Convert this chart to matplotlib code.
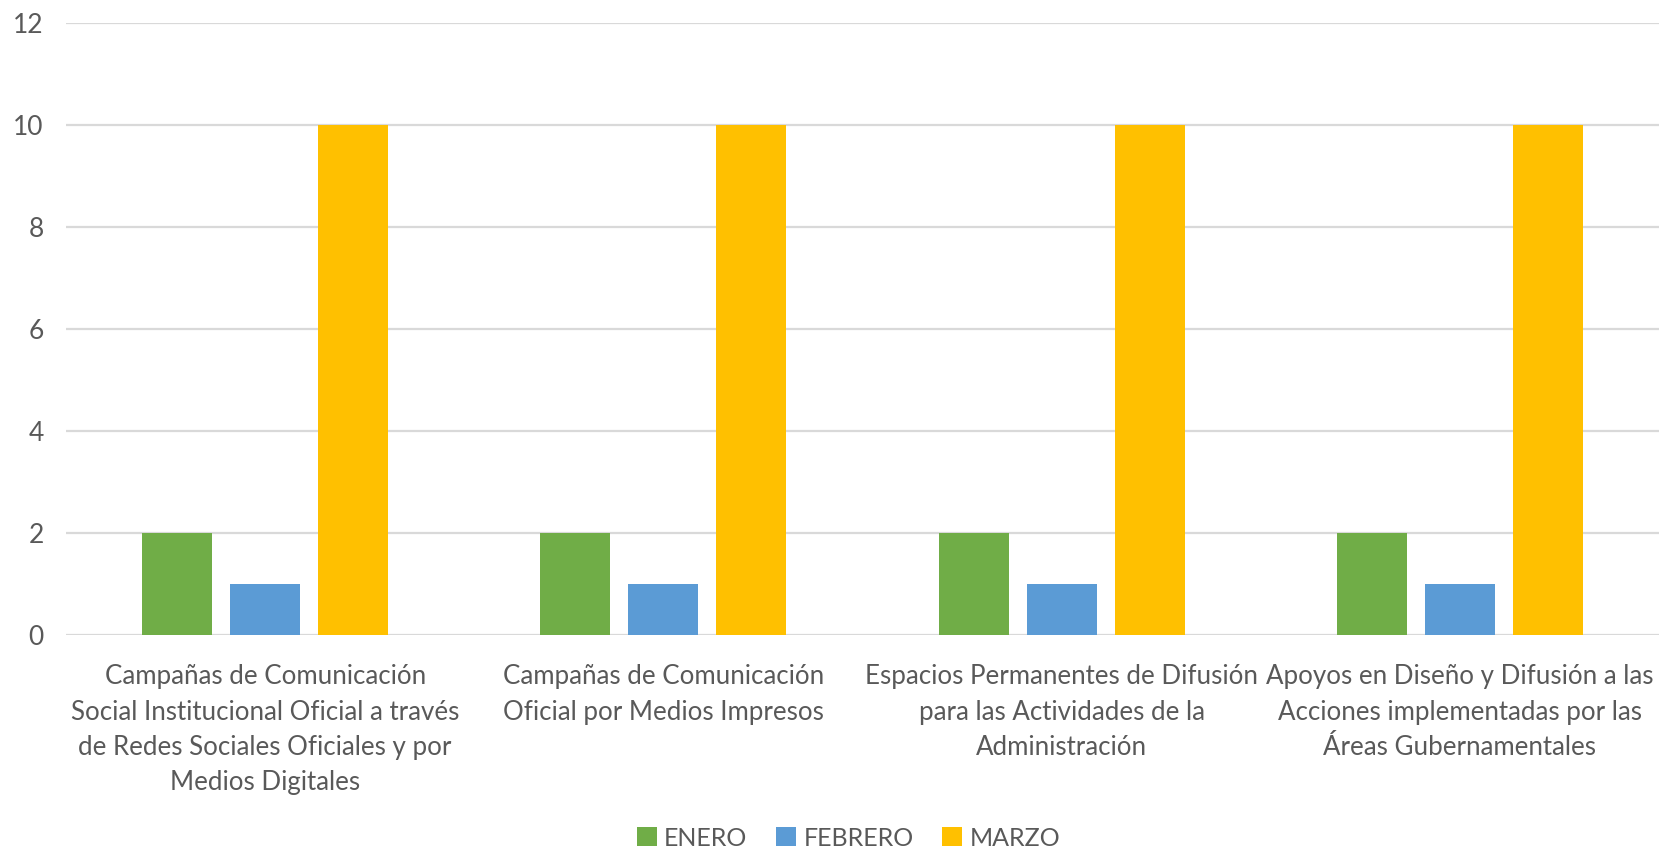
import numpy as np
import matplotlib.pyplot as plt

categories = [
    "Campañas de Comunicación\nSocial Institucional Oficial a través\nde Redes Sociales Oficiales y por\nMedios Digitales",
    "Campañas de Comunicación\nOficial por Medios Impresos",
    "Espacios Permanentes de Difusión\npara las Actividades de la\nAdministración",
    "Apoyos en Diseño y Difusión a las\nAcciones implementadas por las\nÁreas Gubernamentales",
]
series_names = ["ENERO", "FEBRERO", "MARZO"]
enero = [2, 2, 2, 2]
febrero = [1, 1, 1, 1]
marzo = [10, 10, 10, 10]
colors = ["#70AD47", "#5B9BD5", "#FFC000"]
text_color = "#595959"

plt.rcParams['font.family'] = ['Lato', 'DejaVu Sans']

fig = plt.figure(figsize=(16.59, 8.51), dpi=100)
ax = fig.add_axes([66/1659, 1 - 635/851, 1 - 66/1659, (635 - 23)/851])

x = np.arange(len(categories))
width = 0.176
pitch = 0.221
for i, (vals, name) in enumerate(zip([enero, febrero, marzo], series_names)):
    ax.bar(x + (i - 1) * pitch, vals, width, color=colors[i], label=name, zorder=3)

ax.set_xlim(-0.5, len(categories) - 0.5)
ax.set_ylim(0, 12)
ax.set_yticks(range(0, 13, 2))
ax.yaxis.grid(True, color="#D9D9D9", linewidth=1.6, zorder=0)
ax.set_axisbelow(True)
for s in ax.spines.values():
    s.set_visible(False)
ax.tick_params(axis='both', length=0, colors=text_color, labelsize=19)
ax.tick_params(axis='y', pad=16)
ax.tick_params(axis='x', pad=21, labelsize=18.6)
ax.set_xticks(x)
ax.set_xticklabels(categories, linespacing=1.52)

ax.legend(loc='center', bbox_to_anchor=(0.5 - 14/1593, (635 - 838) / 612), ncol=3, frameon=False,
          fontsize=18, labelcolor=text_color, handlelength=0.8, handleheight=0.8,
          handletextpad=0.3, columnspacing=1.15)

fig.savefig("out.png", dpi=100)
